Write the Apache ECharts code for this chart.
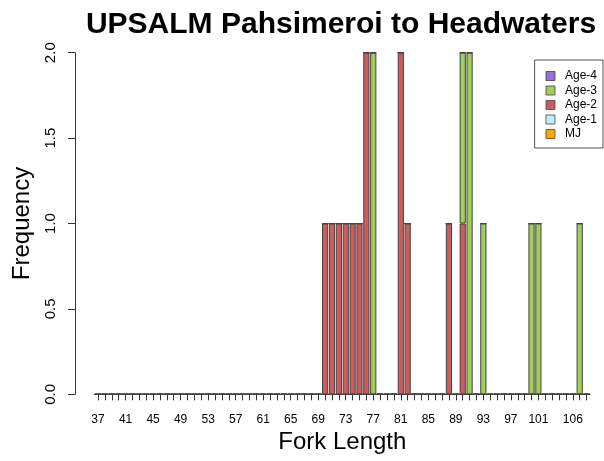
<!DOCTYPE html>
<html>
<head>
<meta charset="utf-8">
<script src="https://cdn.jsdelivr.net/npm/echarts@6/dist/echarts.min.js"></script>
<style>
html,body{margin:0;padding:0;background:#fff;}
#chart{width:604px;height:461px;}
</style>
</head>
<body>
<div id="chart"></div>
<script>
// Fork length categories (37..108)
const categories = [
  37,38,39,40,41,42,43,44,45,46,47,48,
  49,50,51,52,53,54,55,56,57,58,59,60,
  61,62,63,64,65,66,67,68,69,70,71,72,
  73,74,75,76,77,78,79,80,81,82,83,84,
  85,86,87,88,89,90,91,92,93,94,95,96,
  97,98,99,100,101,102,103,104,105,106,107,108
];
// Tick labels that are shown on the x axis
const tickLabels = [37,41,45,49,53,57,61,65,69,73,77,81,85,89,93,97,101,106];
const yTicks = [0, 0.5, 1.0, 1.5, 2.0];

const mj = [
  0,0,0,0,0,0,0,0,0,0,0,0,
  0,0,0,0,0,0,0,0,0,0,0,0,
  0,0,0,0,0,0,0,0,0,0,0,0,
  0,0,0,0,0,0,0,0,0,0,0,0,
  0,0,0,0,0,0,0,0,0,0,0,0,
  0,0,0,0,0,0,0,0,0,0,0,0
];
const age1 = [
  0,0,0,0,0,0,0,0,0,0,0,0,
  0,0,0,0,0,0,0,0,0,0,0,0,
  0,0,0,0,0,0,0,0,0,0,0,0,
  0,0,0,0,0,0,0,0,0,0,0,0,
  0,0,0,0,0,0,0,0,0,0,0,0,
  0,0,0,0,0,0,0,0,0,0,0,0
];
const age2 = [
  0,0,0,0,0,0,0,0,0,0,0,0,
  0,0,0,0,0,0,0,0,0,0,0,0,
  0,0,0,0,0,0,0,0,0,1,1,1,
  1,1,1,2,0,0,0,0,2,1,0,0,
  0,0,0,1,0,1,0,0,0,0,0,0,
  0,0,0,0,0,0,0,0,0,0,0,0
];
const age3 = [
  0,0,0,0,0,0,0,0,0,0,0,0,
  0,0,0,0,0,0,0,0,0,0,0,0,
  0,0,0,0,0,0,0,0,0,0,0,0,
  0,0,0,0,2,0,0,0,0,0,0,0,
  0,0,0,0,0,1,2,0,1,0,0,0,
  0,0,0,1,1,0,0,0,0,0,1,0
];
const age4 = [
  0,0,0,0,0,0,0,0,0,0,0,0,
  0,0,0,0,0,0,0,0,0,0,0,0,
  0,0,0,0,0,0,0,0,0,0,0,0,
  0,0,0,0,0,0,0,0,0,0,0,0,
  0,0,0,0,0,0,0,0,0,0,0,0,
  0,0,0,0,0,0,0,0,0,0,0,0
];

const seriesDefs = [
  {name:'MJ', data: mj, color:'#FFA500'},
  {name:'Age-1', data: age1, color:'#BFEFFF'},
  {name:'Age-2', data: age2, color:'#CD5C5C'},
  {name:'Age-3', data: age3, color:'#A2CD5A'},
  {name:'Age-4', data: age4, color:'#9370DB'}
];

const FONT = '"Liberation Sans", Arial, sans-serif';
const chart = echarts.init(document.getElementById('chart'), null, {renderer:'canvas'});
chart.setOption({
  animation: false,
  backgroundColor: '#fff',
  title: {
    text: 'UPSALM Pahsimeroi to Headwaters',
    left: 336, top: 5, textAlign: 'center',
    textStyle: {fontFamily: FONT, fontWeight: 'bold', fontSize: 30, color: '#000'}
  },
  legend: {
    data: ['Age-4','Age-3','Age-2','Age-1','MJ'],
    orient: 'vertical',
    right: 1, top: 60,
    itemWidth: 9, itemHeight: 9, itemGap: 2.5,
    icon: 'rect',
    padding: [10, 6, 8, 11],
    borderColor: '#555', borderWidth: 1, borderRadius: 0,
    itemStyle: {borderColor: '#444', borderWidth: 0.8},
    textStyle: {fontFamily: FONT, fontSize: 12, color: '#000', padding: [0,0,0,5]}
  },
  grid: {left: 94.6, right: 14, top: 52.7, bottom: 66.7, containLabel: false},
  xAxis: {
    type: 'category',
    data: categories,
    offset: 5,
    name: 'Fork Length', nameLocation: 'middle', nameGap: 30,
    nameTextStyle: {fontFamily: FONT, fontSize: 24, color: '#000'},
    axisLine: {show: true, lineStyle: {color: '#333', width: 1}},
    axisTick: {show: true, alignWithLabel: true, interval: 0, length: 6, lineStyle: {color: '#333'}},
    axisLabel: {
      interval: (idx, val) => tickLabels.includes(Number(val)),
      margin: 14, fontFamily: FONT, fontSize: 12, color: '#000'
    },
    splitLine: {show: false}
  },
  yAxis: {
    type: 'value', min: 0, max: 2, interval: 0.5,
    offset: 19.6,
    name: 'Frequency', nameLocation: 'middle', nameGap: 41, nameRotate: 90,
    nameTextStyle: {fontFamily: FONT, fontSize: 24, color: '#000'},
    axisLine: {show: true, lineStyle: {color: '#333', width: 1}},
    axisTick: {show: true, length: 7, lineStyle: {color: '#333'}},
    axisLabel: {
      rotate: 90, margin: 17, fontFamily: FONT, fontSize: 15, color: '#000',
      formatter: v => yTicks.includes(v) ? v.toFixed(1) : ''
    },
    splitLine: {show: false}
  },
  series: seriesDefs.map(s => ({
    name: s.name,
    type: 'bar',
    stack: 'total',
    data: s.data,
    barCategoryGap: '10%',
    itemStyle: {color: s.color, borderColor: '#444', borderWidth: 1},
    emphasis: {disabled: true}
  }))
});
</script>
</body>
</html>
